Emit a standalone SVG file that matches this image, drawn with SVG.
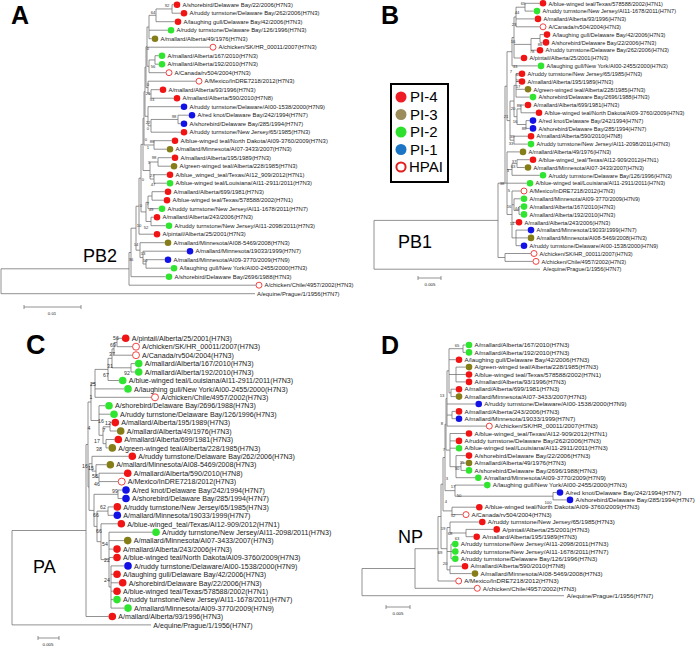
<svg xmlns="http://www.w3.org/2000/svg" width="696" height="648" viewBox="0 0 696 648">
<style>
.ln{fill:none;stroke:#6e6e6e;stroke-width:0.75}
.r{fill:#f01414}.o{fill:#857d18}.g{fill:#2fe52f}.b{fill:#1212e6}.h{fill:#fff;stroke:#f01414;stroke-width:0.8}
text{font-family:"Liberation Sans",Arial,sans-serif;fill:#222}
.ta text{font-size:5.9px}.tb text{font-size:5.6px}.tc text{font-size:7.1px}.td text{font-size:6.2px}
.bs text{font-size:4.2px;text-anchor:middle;fill:#333}.bsc text{font-size:5.2px;text-anchor:middle;fill:#333}
.big{font-weight:bold;font-size:25px;fill:#000}
.gene{font-size:18px;fill:#000}
.sc{font-size:4.4px;text-anchor:middle}
.leg{font-size:15px;fill:#000}
</style>
<rect width="696" height="648" fill="#fff"/>
<g id="connectors" class="ln">
<path id="tree-A" d="M1 268.8V293.7M1 268.8H129M1 293.7H255M129 252.5V285.2M129 252.5H131M129 285.2H255.7M131 228.2V276.7M131 228.2H136M131 276.7H165.7M136 206.2V250.2M136 206.2H139M136 250.2H140M139 178.2V234.2M139 178.2H141M139 234.2H153.7M140 242.7V257.6M140 242.7H164.7M140 257.6H143M143 251.2V264M143 251.2H186.7M143 264H146M146 259.7V268.2M146 259.7H164.7M146 268.2H170.7M141 144.4V211.9M141 144.4H143M141 211.9H146M146 202.3V221.5M146 202.3H148M146 221.5H151M148 196V208.7M148 196H152M148 208.7H158.7M152 191.7V200.2M152 191.7H164.7M152 200.2H163.7M151 217.2V225.7M151 217.2H153.7M151 225.7H165.7M143 118.3V170.5M143 118.3H144M143 170.5H150M150 162V179M150 162H158M150 179H154M158 157.7V166.2M158 157.7H171.7M158 166.2H170.7M154 174.7V183.2M154 174.7H166.7M154 183.2H166.7M144 91.7V145M144 91.7H145M144 145H154M154 140.7V149.2M154 140.7H171.7M154 149.2H166.7M145 67.1V116.3M145 67.1H146M145 116.3H148M148 106.7V125.8M148 106.7H180.7M148 125.8H151M151 119.45V132.2M151 119.45H178M151 132.2H180.7M178 115.2V123.7M178 115.2H188.7M178 123.7H180.7M146 46.7V87.6M146 46.7H147M146 87.6H148M148 81.2V93.95M148 81.2H195.7M148 93.95H151M151 89.7V98.2M151 89.7H159.7M151 98.2H173.7M147 27V66.3M147 27H149M147 47.2H209.7M147 66.3H149M149 59.95V72.7M149 59.95H155M149 72.7H165.7M155 55.7V64.2M155 55.7H158.7M155 64.2H158.7M149 15.3V38.7M149 15.3H156M149 30.2H167.7M149 38.7H151.7M156 8.95V21.7M156 8.95H172M156 21.7H174.7M172 4.7V13.2M172 4.7H173.7M172 13.2H180.7"/>
<path id="tree-B" d="M374 220.4V269.2M374 220.4H498M374 269.2H540M498 183.2V257.5M498 183.2H505M498 257.5H505M505 253.5V261.4M505 253.5H530.7M505 261.4H532.7M505 86.2V183.2M505 86.2H507M505 183.2H507M507 51.7V120.6M507 51.7H512M507 120.6H510M512 37.5V65.9M512 37.5H514M512 65.9H537.7M514 17V58M514 17H516M514 44.4H531M514 58H520.7M516 7.2V26.8M516 7.2H525M516 18.9H534.7M516 26.8H539.7M525 3.3V11.1M525 3.3H539.7M525 11.1H533.7M531 38.5V50.2M531 38.5H540M531 50.2H536.7M540 34.6V42.4M540 34.6H543.7M540 42.4H542.7M510 101V140.2M510 101H514M510 140.2H514M514 85.4V116.7M514 85.4H516M514 116.7H517M516 73.7V97.1M516 73.7H518.7M516 81.5H518.7M516 89.3H524.7M516 97.1H529.7M517 108.9V124.5M517 108.9H521M517 124.5H526M521 105V112.8M521 105H524.7M521 112.8H535.7M526 120.6V128.4M526 120.6H529.7M526 128.4H529.7M514 136.2V144.1M514 136.2H527.7M514 144.1H527.7M507 151.9V214.5M507 151.9H519.7M507 169.5H512M507 183.2H526.7M507 214.5H512M512 163.6V175.3M512 163.6H517M512 175.3H539.7M517 159.7V167.5M517 159.7H529.7M517 167.5H524.7M512 191V237.9M512 191H520.7M512 204.7H514M512 222.3H515.7M512 237.9H516M514 198.8V210.5M514 198.8H520.7M514 210.5H519M519 206.6V214.4M519 206.6H520.7M519 214.4H520.7M516 230.1V245.7M516 230.1H527.7M516 237.9H527.7M516 245.7H520.7"/>
<path id="tree-C" d="M12 530.5V624.9M12 530.5H86M12 624.9H151M86 444.5V616.5M86 444.5H88M86 616.5H108.5M88 402V487M88 402H91M88 487H89M91 383.4V420.5M91 383.4H95M91 420.5H99M95 369.4V397.3M95 369.4H108M95 388.9H124.2M95 397.3H151.2M108 358.3V380.5M108 358.3H112M108 380.5H118.9M112 348.9V367.8M112 348.9H114M112 367.8H131M114 342.5V355.2M114 342.5H117M114 355.2H132.2M117 338.3V346.7M117 338.3H121.9M117 346.7H132.2M131 363.6V372M131 363.6H134.9M131 372H134.9M99 405.7V435.3M99 405.7H105.2M99 414.2H110.2M99 435.3H103M103 426.8V443.7M103 426.8H110M103 443.7H106M110 422.6V431M110 422.6H111.5M110 431H116.9M106 439.5V447.9M106 439.5H114.5M106 447.9H108.5M89 463.7V510.4M89 463.7H92M89 510.4H94M92 456.3V471.1M92 456.3H128.5M92 471.1H96M96 464.7V477.4M96 464.7H106.5M96 477.4H99M99 473.2V481.6M99 473.2H123.9M99 481.6H117.9M94 494.3V526.4M94 494.3H118M94 526.4H97M118 490V498.5M118 490H122.2M118 498.5H122.2M97 511.1V541.7M97 511.1H108M97 541.7H101M108 506.9V515.3M108 506.9H113.5M108 515.3H113.5M101 523.8V559.6M101 523.8H117.5M101 559.6H109M109 532.2V587M109 532.2H152.2M109 540.6H123.9M109 549.1H113.2M109 557.5H113.2M109 587H111M111 565.9V608.1M111 565.9H124.2M111 574.3H113.2M111 582.8H118.9M111 591.2H113.2M111 599.6H113.2M111 608.1H124.2"/>
<path id="tree-D" d="M362 568.5V595.7M362 568.5H415M362 595.7H564M415 548.7V588.3M415 548.7H438M415 588.3H474M438 516.5V581M438 516.5H441M438 581H455.4M441 484.2V548.7M441 484.2H443M441 548.7H447M447 527.5V569.9M447 527.5H450M447 551.5H451M447 569.9H450M450 522V533M450 522H479M450 533H466M466 529.4V536.7M466 529.4H493.4M466 536.7H473.4M451 544.1V558.8M451 544.1H452M451 551.5H452M451 558.8H452M450 566.2V573.6M450 566.2H461.7M450 573.6H471.7M443 457.5V510.9M443 457.5H445M443 510.9H452M452 507.2V514.6M452 507.2H476M452 514.6H462.7M445 424.3V490.65M445 424.3H446M445 490.65H455M455 485.1V496.2M455 485.1H484M455 496.2H553M553 492.5V499.9M553 492.5H556.7M553 499.9H566.7M446 398.5V450.1M446 398.5H447M446 450.1H450M450 433.5V466.7M450 433.5H465.7M450 440.9H455.7M450 448.2H455.7M450 466.7H456M456 455.6V477.7M456 455.6H465.7M456 466.7H461M456 477.7H475M461 463V470.4M461 463H465.7M461 470.4H465.7M447 370.8V426.1M447 370.8H449M447 404H475.4M447 415.05H452M447 426.1H486M452 411.4V418.7M452 411.4H455.7M452 418.7H455.7M449 348.7V392.9M449 348.7H463M449 359.7H455.7M449 374.5H456M449 392.9H451M463 345V352.4M463 345H465.7M463 352.4H465.7M456 367.1V381.9M456 367.1H465.7M456 374.5H465.7M456 381.9H465.7M451 389.2V396.6M451 389.2H455.7M451 396.6H455.7"/>
<path id="scalebars" d="M24 307H81M24 305V309M81 305V309M418 278H441M418 276V280M441 276V280M38 638H59M38 636V640M59 636V640M386 607H410M386 605V609M410 605V609"/>
</g>
<g id="panel-labels">
<text class="big" x="11" y="24">A</text>
<text class="big" x="381" y="24">B</text>
<text class="big" x="26" y="354" style="font-size:27px">C</text>
<text class="big" x="381" y="354">D</text>
<text class="gene" x="83" y="262">PB2</text>
<text class="gene" x="398" y="248">PB1</text>
<text class="gene" x="33" y="573">PA</text>
<text class="gene" x="398" y="543">NP</text>
<text class="sc" x="52" y="315">0.01</text>
<text class="sc" x="430" y="286">0.005</text>
<text class="sc" x="48" y="646">0.005</text>
<text class="sc" x="398" y="615">0.005</text>
</g>
<g id="legend">
<rect x="391" y="84" width="57" height="98" fill="#fff" stroke="#000" stroke-width="2"/>
<circle cx="401" cy="97" r="5.5" fill="#ee1c24"/><text class="leg" x="410" y="102.4">PI-4</text>
<circle cx="401" cy="114.5" r="5.5" fill="#9c8c5c"/><text class="leg" x="410" y="119.9">PI-3</text>
<circle cx="401" cy="132" r="5.5" fill="#2ee02e"/><text class="leg" x="410" y="137.4">PI-2</text>
<circle cx="401" cy="149.5" r="5.5" fill="#1b74c4"/><text class="leg" x="410" y="154.9">PI-1</text>
<circle cx="401" cy="167" r="4.6" fill="#fff" stroke="#e02020" stroke-width="2"/><text class="leg" x="409" y="172.4">HPAI</text>
</g>
<g id="bootstrap-A" class="bs">
<text x="167" y="6.5">92</text><text x="153" y="13.5">64</text><text x="148" y="49.5">0</text><text x="153" y="67.5">56</text><text x="148" y="85.5">0</text><text x="148" y="94.5">21</text><text x="152" y="100.5">53</text><text x="174" y="117.5">98</text><text x="148" y="123.5">22</text><text x="148" y="129.5">0</text><text x="146" y="140.5">0</text><text x="152" y="142.5">88</text><text x="148" y="148.5">1</text><text x="154" y="158.5">98</text><text x="149" y="163.5">3</text><text x="152" y="176.5">27</text><text x="153" y="185.5">47</text><text x="143" y="180.5">0</text><text x="148" y="204.5">7</text><text x="151" y="210.5">49</text><text x="141" y="206.5">0</text><text x="139" y="226.5">10</text><text x="146" y="228.5">52</text><text x="136" y="245.5">14</text><text x="143" y="254.5">13</text><text x="145" y="261.5">10</text><text x="131" y="260.5">36</text>
</g>
<g id="bootstrap-B" class="bs">
<text x="523" y="4.5">65</text><text x="517" y="13.5">44</text><text x="514" y="25.5">23</text><text x="513" y="42.5">16</text><text x="540" y="45.5">88</text><text x="532" y="52.5">78</text><text x="515" y="67.5">33</text><text x="511" y="72.5">7</text><text x="518" y="75.5">65</text><text x="518" y="81.5">10</text><text x="518" y="87.5">17</text><text x="519" y="106.5">88</text><text x="513" y="109.5">20</text><text x="506" y="117.5">21</text><text x="515" y="122.5">16</text><text x="524" y="129.5">88</text><text x="512" y="137.5">39</text><text x="511" y="144.5">33</text><text x="514" y="162.5">37</text><text x="513" y="167.5">63</text><text x="508" y="171.5">3</text><text x="502" y="184.5">38</text><text x="509" y="191.5">5</text><text x="509" y="207.5">16</text><text x="517" y="209.5">44</text><text x="512" y="224.5">14</text>
</g>
<g id="bootstrap-C" class="bsc">
<text x="116" y="339.8">56</text><text x="113" y="346.8">69</text><text x="112" y="355.8">37</text><text x="110" y="367.8">31</text><text x="127" y="374.8">92</text><text x="106" y="376.8">67</text><text x="93" y="385.8">25</text><text x="91" y="398.8">1</text><text x="101" y="422.8">16</text><text x="108" y="424.8">12</text><text x="89" y="429.8">4</text><text x="104" y="431.8">7</text><text x="97" y="442.8">17</text><text x="99" y="450.8">38</text><text x="85" y="467.8">16</text><text x="91" y="469.8">15</text><text x="95" y="477.8">58</text><text x="97" y="485.8">46</text><text x="115" y="492.8">99</text><text x="103" y="508.8">62</text><text x="96" y="516.8">66</text><text x="99" y="532.8">66</text><text x="105" y="545.8">54</text><text x="107" y="561.8">22</text><text x="107" y="581.8">24</text>
</g>
<g id="bootstrap-D" class="bs">
<text x="457" y="346.5">65</text><text x="442" y="396.5">13</text><text x="442" y="424.5">8</text><text x="444" y="450.5">7</text><text x="462" y="463.5">35</text><text x="457" y="469.5">30</text><text x="447" y="479.5">3</text><text x="453" y="487.5">17</text><text x="459" y="496.5">50</text><text x="548" y="503.5">100</text><text x="446" y="502.5">4</text><text x="453" y="516.5">52</text><text x="443" y="529.5">19</text><text x="450" y="534.5">68</text><text x="457" y="539.5">63</text><text x="440" y="553.5">69</text><text x="445" y="564.5">20</text>
</g>
<g id="leaves-A" class="ta">
<g id="a0"><circle class="r" cx="177" cy="4.7" r="3.3"/><text x="182.5" y="6.9">A/shorebird/Delaware Bay/22/2006(H7N3)</text></g>
<g id="a1"><circle class="r" cx="184" cy="13.2" r="3.3"/><text x="189.5" y="15.4">A/ruddy turnstone/Delaware Bay/262/2006(H7N3)</text></g>
<g id="a2"><circle class="r" cx="178" cy="21.7" r="3.3"/><text x="183.5" y="23.9">A/laughing gull/Delaware Bay/42/2006(H7N3)</text></g>
<g id="a3"><circle class="g" cx="171" cy="30.2" r="3.3"/><text x="176.5" y="32.4">A/ruddy turnstone/Delaware Bay/126/1996(H7N3)</text></g>
<g id="a4"><circle class="o" cx="155" cy="38.7" r="3.3"/><text x="160.5" y="40.9">A/mallard/Alberta/49/1976(H7N3)</text></g>
<g id="a5"><circle class="h" cx="213" cy="47.2" r="3"/><text x="218.5" y="49.4">A/chicken/SK/HR_00011/2007(H7N3)</text></g>
<g id="a6"><circle class="g" cx="162" cy="55.7" r="3.3"/><text x="167.5" y="57.9">A/mallard/Alberta/167/2010(H7N3)</text></g>
<g id="a7"><circle class="g" cx="162" cy="64.2" r="3.3"/><text x="167.5" y="66.4">A/mallard/Alberta/192/2010(H7N3)</text></g>
<g id="a8"><circle class="h" cx="169" cy="72.7" r="3"/><text x="174.5" y="74.9">A/Canada/rv504/2004(H7N3)</text></g>
<g id="a9"><circle class="h" cx="199" cy="81.2" r="3"/><text x="204.5" y="83.4">A/Mexico/InDRE7218/2012(H7N3)</text></g>
<g id="a10"><circle class="r" cx="163" cy="89.7" r="3.3"/><text x="168.5" y="91.9">A/mallard/Alberta/93/1996(H7N3)</text></g>
<g id="a11"><circle class="r" cx="177" cy="98.2" r="3.3"/><text x="182.5" y="100.4">A/mallard/Alberta/590/2010(H7N8)</text></g>
<g id="a12"><circle class="b" cx="184" cy="106.7" r="3.3"/><text x="189.5" y="108.9">A/ruddy turnstone/Delaware/AI00-1538/2000(H7N9)</text></g>
<g id="a13"><circle class="b" cx="192" cy="115.2" r="3.3"/><text x="197.5" y="117.4">A/red knot/Delaware Bay/242/1994(H7N7)</text></g>
<g id="a14"><circle class="b" cx="184" cy="123.7" r="3.3"/><text x="189.5" y="125.9">A/shorebird/Delaware Bay/285/1994(H7N7)</text></g>
<g id="a15"><circle class="r" cx="184" cy="132.2" r="3.3"/><text x="189.5" y="134.4">A/ruddy turnstone/New Jersey/65/1985(H7N3)</text></g>
<g id="a16"><circle class="r" cx="175" cy="140.7" r="3.3"/><text x="180.5" y="142.9">A/blue-winged teal/North Dakota/AI09-3760/2009(H7N3)</text></g>
<g id="a17"><circle class="o" cx="170" cy="149.2" r="3.3"/><text x="175.5" y="151.4">A/mallard/Minnesota/AI07-3433/2007(H7N3)</text></g>
<g id="a18"><circle class="r" cx="175" cy="157.7" r="3.3"/><text x="180.5" y="159.9">A/mallard/Alberta/195/1989(H7N3)</text></g>
<g id="a19"><circle class="o" cx="174" cy="166.2" r="3.3"/><text x="179.5" y="168.4">A/green-winged teal/Alberta/228/1985(H7N3)</text></g>
<g id="a20"><circle class="r" cx="170" cy="174.7" r="3.3"/><text x="175.5" y="176.9">A/blue_winged_teal/Texas/AI12_909/2012(H7N1)</text></g>
<g id="a21"><circle class="g" cx="170" cy="183.2" r="3.3"/><text x="175.5" y="185.4">A/blue-winged teal/Louisiana/AI11-2911/2011(H7N3)</text></g>
<g id="a22"><circle class="r" cx="168" cy="191.7" r="3.3"/><text x="173.5" y="193.9">A/mallard/Alberta/699/1981(H7N3)</text></g>
<g id="a23"><circle class="r" cx="167" cy="200.2" r="3.3"/><text x="172.5" y="202.4">A/blue-winged teal/Texas/578588/2002(H7N1)</text></g>
<g id="a24"><circle class="g" cx="162" cy="208.7" r="3.3"/><text x="167.5" y="210.9">A/ruddy turnstone/New Jersey/AI11-1678/2011(H7N7)</text></g>
<g id="a25"><circle class="r" cx="157" cy="217.2" r="3.3"/><text x="162.5" y="219.4">A/mallard/Alberta/243/2006(H7N3)</text></g>
<g id="a26"><circle class="g" cx="169" cy="225.7" r="3.3"/><text x="174.5" y="227.9">A/ruddy turnstone/New Jersey/AI11-2098/2011(H7N3)</text></g>
<g id="a27"><circle class="r" cx="157" cy="234.2" r="3.3"/><text x="162.5" y="236.4">A/pintail/Alberta/25/2001(H7N3)</text></g>
<g id="a28"><circle class="o" cx="168" cy="242.7" r="3.3"/><text x="173.5" y="244.9">A/mallard/Minnesota/AI08-5469/2008(H7N3)</text></g>
<g id="a29"><circle class="b" cx="190" cy="251.2" r="3.3"/><text x="195.5" y="253.4">A/mallard/Minnesota/19033/1999(H7N7)</text></g>
<g id="a30"><circle class="b" cx="168" cy="259.7" r="3.3"/><text x="173.5" y="261.9">A/mallard/Minnesota/AI09-3770/2009(H7N9)</text></g>
<g id="a31"><circle class="g" cx="174" cy="268.2" r="3.3"/><text x="179.5" y="270.4">A/laughing gull/New York/AI00-2455/2000(H7N3)</text></g>
<g id="a32"><circle class="g" cx="169" cy="276.7" r="3.3"/><text x="174.5" y="278.9">A/shorebird/Delaware Bay/2696/1988(H7N3)</text></g>
<g id="a33"><circle class="h" cx="259" cy="285.2" r="3"/><text x="264.5" y="287.4">A/chicken/Chile/4957/2002(H7N3)</text></g>
<g id="a34"><text x="257" y="295.9">A/equine/Prague/1/1956(H7N7)</text></g>
</g>
<g id="leaves-B" class="tb">
<g id="b0"><circle class="r" cx="543" cy="3.3" r="3.3"/><text x="548.5" y="5.5">A/blue-winged teal/Texas/578588/2002(H7N1)</text></g>
<g id="b1"><circle class="g" cx="537" cy="11.1" r="3.3"/><text x="542.5" y="13.3">A/ruddy turnstone/New Jersey/AI11-1678/2011(H7N7)</text></g>
<g id="b2"><circle class="r" cx="538" cy="18.9" r="3.3"/><text x="543.5" y="21.1">A/mallard/Alberta/93/1996(H7N3)</text></g>
<g id="b3"><circle class="h" cx="543" cy="26.8" r="3"/><text x="548.5" y="29">A/Canada/rv504/2004(H7N3)</text></g>
<g id="b4"><circle class="r" cx="547" cy="34.6" r="3.3"/><text x="552.5" y="36.8">A/laughing gull/Delaware Bay/42/2006(H7N3)</text></g>
<g id="b5"><circle class="r" cx="546" cy="42.4" r="3.3"/><text x="551.5" y="44.6">A/shorebird/Delaware Bay/22/2006(H7N3)</text></g>
<g id="b6"><circle class="r" cx="540" cy="50.2" r="3.3"/><text x="545.5" y="52.4">A/ruddy turnstone/Delaware Bay/262/2006(H7N3)</text></g>
<g id="b7"><circle class="r" cx="524" cy="58" r="3.3"/><text x="529.5" y="60.2">A/pintail/Alberta/25/2001(H7N3)</text></g>
<g id="b8"><circle class="g" cx="541" cy="65.9" r="3.3"/><text x="546.5" y="68.1">A/laughing gull/New York/AI00-2455/2000(H7N3)</text></g>
<g id="b9"><circle class="r" cx="522" cy="73.7" r="3.3"/><text x="527.5" y="75.9">A/ruddy turnstone/New Jersey/65/1985(H7N3)</text></g>
<g id="b10"><circle class="r" cx="522" cy="81.5" r="3.3"/><text x="527.5" y="83.7">A/mallard/Alberta/195/1989(H7N3)</text></g>
<g id="b11"><circle class="o" cx="528" cy="89.3" r="3.3"/><text x="533.5" y="91.5">A/green-winged teal/Alberta/228/1985(H7N3)</text></g>
<g id="b12"><circle class="g" cx="533" cy="97.1" r="3.3"/><text x="538.5" y="99.3">A/shorebird/Delaware Bay/2696/1988(H7N3)</text></g>
<g id="b13"><circle class="r" cx="528" cy="105" r="3.3"/><text x="533.5" y="107.2">A/mallard/Alberta/699/1981(H7N3)</text></g>
<g id="b14"><circle class="r" cx="539" cy="112.8" r="3.3"/><text x="544.5" y="115">A/blue-winged teal/North Dakota/AI09-3760/2009(H7N3)</text></g>
<g id="b15"><circle class="b" cx="533" cy="120.6" r="3.3"/><text x="538.5" y="122.8">A/red knot/Delaware Bay/242/1994(H7N7)</text></g>
<g id="b16"><circle class="b" cx="533" cy="128.4" r="3.3"/><text x="538.5" y="130.6">A/shorebird/Delaware Bay/285/1994(H7N7)</text></g>
<g id="b17"><circle class="r" cx="531" cy="136.2" r="3.3"/><text x="536.5" y="138.4">A/mallard/Alberta/590/2010(H7N8)</text></g>
<g id="b18"><circle class="g" cx="531" cy="144.1" r="3.3"/><text x="536.5" y="146.3">A/ruddy turnstone/New Jersey/AI11-2098/2011(H7N3)</text></g>
<g id="b19"><circle class="o" cx="523" cy="151.9" r="3.3"/><text x="528.5" y="154.1">A/mallard/Alberta/49/1976(H7N3)</text></g>
<g id="b20"><circle class="r" cx="533" cy="159.7" r="3.3"/><text x="538.5" y="161.9">A/blue-winged_teal/Texas/AI12-909/2012(H7N1)</text></g>
<g id="b21"><circle class="o" cx="528" cy="167.5" r="3.3"/><text x="533.5" y="169.7">A/mallard/Minnesota/AI07-3433/2007(H7N3)</text></g>
<g id="b22"><circle class="g" cx="543" cy="175.3" r="3.3"/><text x="548.5" y="177.5">A/ruddy turnstone/Delaware Bay/126/1996(H7N3)</text></g>
<g id="b23"><circle class="g" cx="530" cy="183.2" r="3.3"/><text x="535.5" y="185.4">A/blue-winged teal/Louisiana/AI11-2911/2011(H7N3)</text></g>
<g id="b24"><circle class="h" cx="524" cy="191" r="3"/><text x="529.5" y="193.2">A/Mexico/InDRE7218/2012(H7N3)</text></g>
<g id="b25"><circle class="g" cx="524" cy="198.8" r="3.3"/><text x="529.5" y="201">A/mallard/Minnesota/AI09-3770/2009(H7N9)</text></g>
<g id="b26"><circle class="g" cx="524" cy="206.6" r="3.3"/><text x="529.5" y="208.8">A/mallard/Alberta/167/2010(H7N3)</text></g>
<g id="b27"><circle class="g" cx="524" cy="214.4" r="3.3"/><text x="529.5" y="216.6">A/mallard/Alberta/192/2010(H7N3)</text></g>
<g id="b28"><circle class="r" cx="519" cy="222.3" r="3.3"/><text x="524.5" y="224.5">A/mallard/Alberta/243/2006(H7N3)</text></g>
<g id="b29"><circle class="b" cx="531" cy="230.1" r="3.3"/><text x="536.5" y="232.3">A/mallard/Minnesota/19033/1999(H7N7)</text></g>
<g id="b30"><circle class="o" cx="531" cy="237.9" r="3.3"/><text x="536.5" y="240.1">A/mallard/Minnesota/AI08-5469/2008(H7N3)</text></g>
<g id="b31"><circle class="b" cx="524" cy="245.7" r="3.3"/><text x="529.5" y="247.9">A/ruddy turnstone/Delaware/AI00-1538/2000(H7N9)</text></g>
<g id="b32"><circle class="h" cx="534" cy="253.5" r="3"/><text x="539.5" y="255.7">A/chicken/SK/HR_00011/2007(H7N3)</text></g>
<g id="b33"><circle class="h" cx="536" cy="261.4" r="3"/><text x="541.5" y="263.6">A/chicken/Chile/4957/2002(H7N3)</text></g>
<g id="b34"><text x="543" y="271.4">A/equine/Prague/1/1956(H7N7)</text></g>
</g>
<g id="leaves-C" class="tc">
<g id="c0"><circle class="r" cx="125.7" cy="338.3" r="3.8"/><text x="131.7" y="341">A/pintail/Alberta/25/2001(H7N3)</text></g>
<g id="c1"><circle class="h" cx="136" cy="346.7" r="3.5"/><text x="142" y="349.4">A/chicken/SK/HR_00011/2007(H7N3)</text></g>
<g id="c2"><circle class="h" cx="136" cy="355.2" r="3.5"/><text x="142" y="357.9">A/Canada/rv504/2004(H7N3)</text></g>
<g id="c3"><circle class="g" cx="138.7" cy="363.6" r="3.8"/><text x="144.7" y="366.3">A/mallard/Alberta/167/2010(H7N3)</text></g>
<g id="c4"><circle class="g" cx="138.7" cy="372" r="3.8"/><text x="144.7" y="374.7">A/mallard/Alberta/192/2010(H7N3)</text></g>
<g id="c5"><circle class="g" cx="122.7" cy="380.5" r="3.8"/><text x="128.7" y="383.2">A/blue-winged teal/Louisiana/AI11-2911/2011(H7N3)</text></g>
<g id="c6"><circle class="g" cx="128" cy="388.9" r="3.8"/><text x="134" y="391.6">A/laughing gull/New York/AI00-2455/2000(H7N3)</text></g>
<g id="c7"><circle class="h" cx="155" cy="397.3" r="3.5"/><text x="161" y="400">A/chicken/Chile/4957/2002(H7N3)</text></g>
<g id="c8"><circle class="g" cx="109" cy="405.7" r="3.8"/><text x="115" y="408.4">A/shorebird/Delaware Bay/2696/1988(H7N3)</text></g>
<g id="c9"><circle class="g" cx="114" cy="414.2" r="3.8"/><text x="120" y="416.9">A/ruddy turnstone/Delaware Bay/126/1996(H7N3)</text></g>
<g id="c10"><circle class="r" cx="115.3" cy="422.6" r="3.8"/><text x="121.3" y="425.3">A/mallard/Alberta/195/1989(H7N3)</text></g>
<g id="c11"><circle class="o" cx="120.7" cy="431" r="3.8"/><text x="126.7" y="433.7">A/mallard/Alberta/49/1976(H7N3)</text></g>
<g id="c12"><circle class="r" cx="118.3" cy="439.5" r="3.8"/><text x="124.3" y="442.2">A/mallard/Alberta/699/1981(H7N3)</text></g>
<g id="c13"><circle class="o" cx="112.3" cy="447.9" r="3.8"/><text x="118.3" y="450.6">A/green-winged teal/Alberta/228/1985(H7N3)</text></g>
<g id="c14"><circle class="r" cx="132.3" cy="456.3" r="3.8"/><text x="138.3" y="459">A/ruddy turnstone/Delaware Bay/262/2006(H7N3)</text></g>
<g id="c15"><circle class="o" cx="110.3" cy="464.7" r="3.8"/><text x="116.3" y="467.4">A/mallard/Minnesota/AI08-5469/2008(H7N3)</text></g>
<g id="c16"><circle class="r" cx="127.7" cy="473.2" r="3.8"/><text x="133.7" y="475.9">A/mallard/Alberta/590/2010(H7N8)</text></g>
<g id="c17"><circle class="h" cx="121.7" cy="481.6" r="3.5"/><text x="127.7" y="484.3">A/Mexico/InDRE7218/2012(H7N3)</text></g>
<g id="c18"><circle class="b" cx="126" cy="490" r="3.8"/><text x="132" y="492.7">A/red knot/Delaware Bay/242/1994(H7N7)</text></g>
<g id="c19"><circle class="b" cx="126" cy="498.5" r="3.8"/><text x="132" y="501.2">A/shorebird/Delaware Bay/285/1994(H7N7)</text></g>
<g id="c20"><circle class="r" cx="117.3" cy="506.9" r="3.8"/><text x="123.3" y="509.6">A/ruddy turnstone/New Jersey/65/1985(H7N3)</text></g>
<g id="c21"><circle class="b" cx="117.3" cy="515.3" r="3.8"/><text x="123.3" y="518">A/mallard/Minnesota/19033/1999(H7N7)</text></g>
<g id="c22"><circle class="r" cx="121.3" cy="523.8" r="3.8"/><text x="127.3" y="526.5">A/blue-winged_teal/Texas/AI12-909/2012(H7N1)</text></g>
<g id="c23"><circle class="g" cx="156" cy="532.2" r="3.8"/><text x="162" y="534.9">A/ruddy turnstone/New Jersey/AI11-2098/2011(H7N3)</text></g>
<g id="c24"><circle class="o" cx="127.7" cy="540.6" r="3.8"/><text x="133.7" y="543.3">A/mallard/Minnesota/AI07-3433/2007(H7N3)</text></g>
<g id="c25"><circle class="r" cx="117" cy="549.1" r="3.8"/><text x="123" y="551.8">A/mallard/Alberta/243/2006(H7N3)</text></g>
<g id="c26"><circle class="r" cx="117" cy="557.5" r="3.8"/><text x="123" y="560.2">A/blue-winged teal/North Dakota/AI09-3760/2009(H7N3)</text></g>
<g id="c27"><circle class="b" cx="128" cy="565.9" r="3.8"/><text x="134" y="568.6">A/ruddy turnstone/Delaware/AI00-1538/2000(H7N9)</text></g>
<g id="c28"><circle class="r" cx="117" cy="574.3" r="3.8"/><text x="123" y="577">A/laughing gull/Delaware Bay/42/2006(H7N3)</text></g>
<g id="c29"><circle class="r" cx="122.7" cy="582.8" r="3.8"/><text x="128.7" y="585.5">A/shorebird/Delaware Bay/22/2006(H7N3)</text></g>
<g id="c30"><circle class="r" cx="117" cy="591.2" r="3.8"/><text x="123" y="593.9">A/blue-winged teal/Texas/578588/2002(H7N1)</text></g>
<g id="c31"><circle class="g" cx="117" cy="599.6" r="3.8"/><text x="123" y="602.3">A/ruddy turnstone/New Jersey/AI11-1678/2011(H7N7)</text></g>
<g id="c32"><circle class="g" cx="128" cy="608.1" r="3.8"/><text x="134" y="610.8">A/mallard/Minnesota/AI09-3770/2009(H7N9)</text></g>
<g id="c33"><circle class="r" cx="112.3" cy="616.5" r="3.8"/><text x="118.3" y="619.2">A/mallard/Alberta/93/1996(H7N3)</text></g>
<g id="c34"><text x="153.3" y="627.6">A/equine/Prague/1/1956(H7N7)</text></g>
</g>
<g id="leaves-D" class="td">
<g id="d0"><circle class="g" cx="469" cy="345" r="3.3"/><text x="474.5" y="347.2">A/mallard/Alberta/167/2010(H7N3)</text></g>
<g id="d1"><circle class="g" cx="469" cy="352.4" r="3.3"/><text x="474.5" y="354.6">A/mallard/Alberta/192/2010(H7N3)</text></g>
<g id="d2"><circle class="r" cx="459" cy="359.7" r="3.3"/><text x="464.5" y="361.9">A/laughing gull/Delaware Bay/42/2006(H7N3)</text></g>
<g id="d3"><circle class="o" cx="469" cy="367.1" r="3.3"/><text x="474.5" y="369.3">A/green-winged teal/Alberta/228/1985(H7N3)</text></g>
<g id="d4"><circle class="r" cx="469" cy="374.5" r="3.3"/><text x="474.5" y="376.7">A/blue-winged teal/Texas/578588/2002(H7N1)</text></g>
<g id="d5"><circle class="r" cx="469" cy="381.9" r="3.3"/><text x="474.5" y="384.1">A/mallard/Alberta/93/1996(H7N3)</text></g>
<g id="d6"><circle class="r" cx="459" cy="389.2" r="3.3"/><text x="464.5" y="391.4">A/mallard/Alberta/699/1981(H7N3)</text></g>
<g id="d7"><circle class="o" cx="459" cy="396.6" r="3.3"/><text x="464.5" y="398.8">A/mallard/Minnesota/AI07-3433/2007(H7N3)</text></g>
<g id="d8"><circle class="b" cx="478.7" cy="404" r="3.3"/><text x="484.2" y="406.2">A/ruddy turnstone/Delaware/AI00-1538/2000(H7N9)</text></g>
<g id="d9"><circle class="r" cx="459" cy="411.4" r="3.3"/><text x="464.5" y="413.6">A/mallard/Alberta/243/2006(H7N3)</text></g>
<g id="d10"><circle class="b" cx="459" cy="418.7" r="3.3"/><text x="464.5" y="420.9">A/mallard/Minnesota/19033/1999(H7N7)</text></g>
<g id="d11"><circle class="h" cx="489.3" cy="426.1" r="3"/><text x="494.8" y="428.3">A/chicken/SK/HR_00011/2007(H7N3)</text></g>
<g id="d12"><circle class="r" cx="469" cy="433.5" r="3.3"/><text x="474.5" y="435.7">A/blue-winged_teal/Texas/AI12-909/2012(H7N1)</text></g>
<g id="d13"><circle class="r" cx="459" cy="440.9" r="3.3"/><text x="464.5" y="443.1">A/ruddy turnstone/Delaware Bay/262/2006(H7N3)</text></g>
<g id="d14"><circle class="g" cx="459" cy="448.2" r="3.3"/><text x="464.5" y="450.4">A/blue-winged teal/Louisiana/AI11-2911/2011(H7N3)</text></g>
<g id="d15"><circle class="r" cx="469" cy="455.6" r="3.3"/><text x="474.5" y="457.8">A/shorebird/Delaware Bay/22/2006(H7N3)</text></g>
<g id="d16"><circle class="o" cx="469" cy="463" r="3.3"/><text x="474.5" y="465.2">A/mallard/Alberta/49/1976(H7N3)</text></g>
<g id="d17"><circle class="g" cx="469" cy="470.4" r="3.3"/><text x="474.5" y="472.6">A/shorebird/Delaware Bay/2696/1988(H7N3)</text></g>
<g id="d18"><circle class="g" cx="478.3" cy="477.7" r="3.3"/><text x="483.8" y="479.9">A/mallard/Minnesota/AI09-3770/2009(H7N9)</text></g>
<g id="d19"><circle class="g" cx="487.3" cy="485.1" r="3.3"/><text x="492.8" y="487.3">A/laughing gull/New York/AI00-2455/2000(H7N3)</text></g>
<g id="d20"><circle class="b" cx="560" cy="492.5" r="3.3"/><text x="565.5" y="494.7">A/red knot/Delaware Bay/242/1994(H7N7)</text></g>
<g id="d21"><circle class="b" cx="570" cy="499.9" r="3.3"/><text x="575.5" y="502.1">A/shorebird/Delaware Bay/285/1994(H7N7)</text></g>
<g id="d22"><circle class="r" cx="479.3" cy="507.2" r="3.3"/><text x="484.8" y="509.4">A/blue-winged teal/North Dakota/AI09-3760/2009(H7N3)</text></g>
<g id="d23"><circle class="h" cx="466" cy="514.6" r="3"/><text x="471.5" y="516.8">A/Canada/rv504/2004(H7N3)</text></g>
<g id="d24"><circle class="r" cx="482.3" cy="522" r="3.3"/><text x="487.8" y="524.2">A/ruddy turnstone/New Jersey/65/1985(H7N3)</text></g>
<g id="d25"><circle class="r" cx="496.7" cy="529.4" r="3.3"/><text x="502.2" y="531.6">A/pintail/Alberta/25/2001(H7N3)</text></g>
<g id="d26"><circle class="r" cx="476.7" cy="536.7" r="3.3"/><text x="482.2" y="538.9">A/mallard/Alberta/195/1989(H7N3)</text></g>
<g id="d27"><circle class="g" cx="455.3" cy="544.1" r="3.3"/><text x="460.8" y="546.3">A/ruddy turnstone/New Jersey/AI11-2098/2011(H7N3)</text></g>
<g id="d28"><circle class="g" cx="455.3" cy="551.5" r="3.3"/><text x="460.8" y="553.7">A/ruddy turnstone/New Jersey/AI11-1678/2011(H7N7)</text></g>
<g id="d29"><circle class="g" cx="455.3" cy="558.8" r="3.3"/><text x="460.8" y="561">A/ruddy turnstone/Delaware Bay/126/1996(H7N3)</text></g>
<g id="d30"><circle class="r" cx="465" cy="566.2" r="3.3"/><text x="470.5" y="568.4">A/mallard/Alberta/590/2010(H7N8)</text></g>
<g id="d31"><circle class="o" cx="475" cy="573.6" r="3.3"/><text x="480.5" y="575.8">A/mallard/Minnesota/AI08-5469/2008(H7N3)</text></g>
<g id="d32"><circle class="h" cx="458.7" cy="581" r="3"/><text x="464.2" y="583.2">A/Mexico/InDRE7218/2012(H7N3)</text></g>
<g id="d33"><circle class="h" cx="477.3" cy="588.3" r="3"/><text x="482.8" y="590.5">A/chicken/Chile/4957/2002(H7N3)</text></g>
<g id="d34"><text x="566.7" y="597.9">A/equine/Prague/1/1956(H7N7)</text></g>
</g>
</svg>
